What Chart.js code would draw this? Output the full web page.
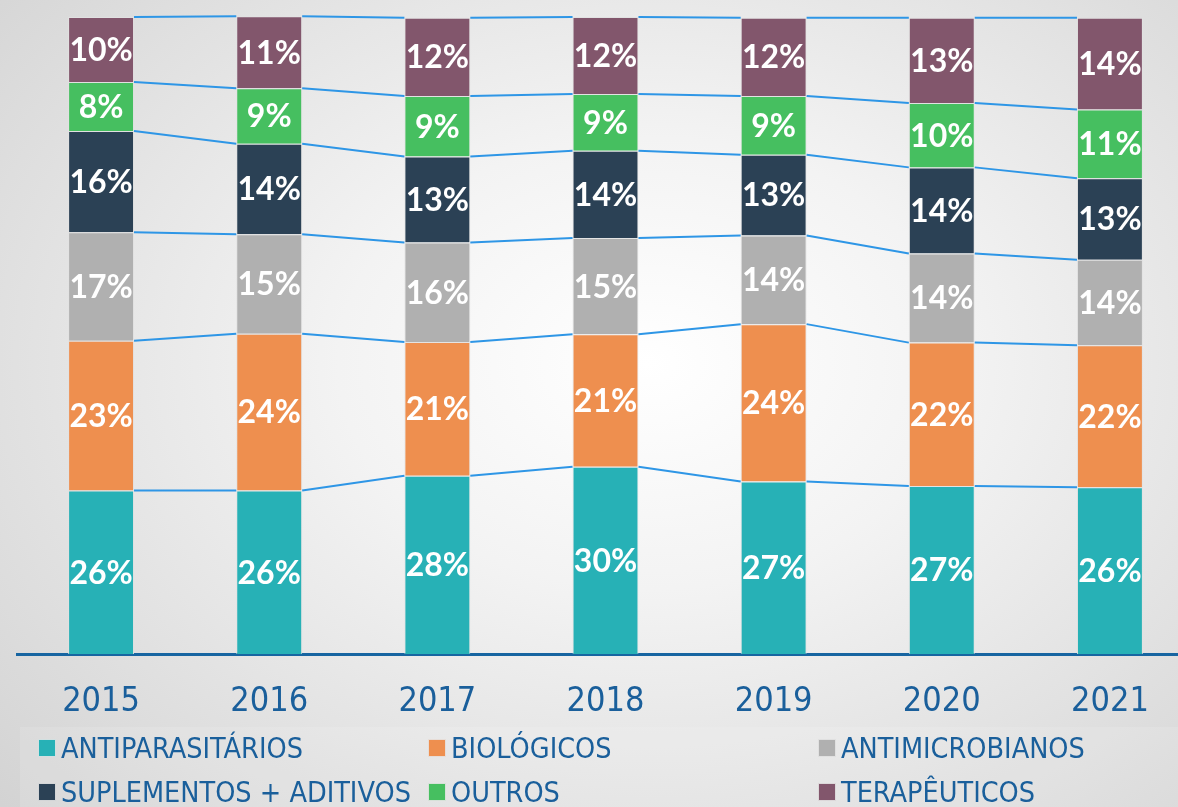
<!DOCTYPE html>
<html>
<head>
<meta charset="utf-8">
<script src="https://cdn.jsdelivr.net/npm/chart.js@4"></script>
<style>
  html, body { margin: 0; padding: 0; width: 1178px; height: 807px; overflow: hidden; }
  body {
    position: relative;
    background: radial-gradient(ellipse 75% 80% at 55% 45%, #ffffff 0%, #f3f3f3 35%, #d3d3d3 100%);
    font-family: 'DejaVu Sans Condensed', sans-serif;
  }
  #chart { position: absolute; left: 0; top: 0; }
  #legendBand { position: absolute; left: 20px; top: 727px; right: 0; bottom: 0; background: rgba(255,255,255,0.12); }
  #legend {
    position: absolute; left: 38px; top: 726px;
    display: grid; grid-template-columns: 390px 390px 390px; grid-auto-rows: 44px;
  }
  .item { display: flex; align-items: center; color: #1a5f9b; font-size: 28.5px; white-space: nowrap; }
  .box { width: 16px; height: 16px; border: 1px solid rgba(230,230,230,0.9); margin-right: 5px; flex: none; }
</style>
</head>
<body>
<div id="legendBand"></div>
<canvas id="chart" width="1200" height="771"></canvas>
<div id="legend"></div>
<script>
// Participação por classe terapêutica (% do total)
const years = ['2015', '2016', '2017', '2018', '2019', '2020', '2021'];

const antiparasitarios = [25.7, 25.7, 28.0, 29.4, 27.1, 26.4, 26.2];
const biologicos       = [23.5, 24.6, 21.0, 20.8, 24.7, 22.5, 22.3];
const antimicrobianos  = [17.0, 15.6, 15.6, 15.1, 13.9, 14.0, 13.4];
const suplementos      = [15.9, 14.2, 13.5, 13.7, 12.7, 13.5, 12.8];
const outros           = [7.7, 8.7, 9.5, 8.9, 9.2, 10.1, 10.8];
const terapeuticos     = [10.2, 11.3, 12.3, 12.1, 12.3, 13.4, 14.4];

// rótulos como aparecem no gráfico
const labAntiparasitarios = [26, 26, 28, 30, 27, 27, 26];
const labBiologicos       = [23, 24, 21, 21, 24, 22, 22];
const labAntimicrobianos  = [17, 15, 16, 15, 14, 14, 14];
const labSuplementos      = [16, 14, 13, 14, 13, 14, 13];
const labOutros           = [8, 9, 9, 9, 9, 10, 11];
const labTerapeuticos     = [10, 11, 12, 12, 12, 13, 14];

const series = [
    { label: 'ANTIPARASITÁRIOS', data: antiparasitarios, labels: labAntiparasitarios, color: '#27b1b6' },
    { label: 'BIOLÓGICOS', data: biologicos, labels: labBiologicos, color: '#ee8f4f' },
    { label: 'ANTIMICROBIANOS', data: antimicrobianos, labels: labAntimicrobianos, color: '#b0b0b0' },
    { label: 'SUPLEMENTOS + ADITIVOS', data: suplementos, labels: labSuplementos, color: '#2b4155' },
    { label: 'OUTROS', data: outros, labels: labOutros, color: '#46bf60' },
    { label: 'TERAPÊUTICOS', data: terapeuticos, labels: labTerapeuticos, color: '#82566c' }
];

// series lines between the bars (like Excel)
const seriesLines = {
    id: 'seriesLines',
    afterDatasetsDraw(chart) {
        const ctx = chart.ctx;
        ctx.save();
        ctx.strokeStyle = '#2e96e6';
        ctx.lineWidth = 2;
        chart.data.datasets.forEach((ds, i) => {
            const bars = chart.getDatasetMeta(i).data;
            for (let j = 0; j < bars.length - 1; j++) {
                const a = bars[j], b = bars[j + 1];
                ctx.beginPath();
                ctx.moveTo(a.x + a.width / 2, a.y);
                ctx.lineTo(b.x - b.width / 2, b.y);
                ctx.stroke();
            }
        });
        ctx.restore();
    }
};

const barLabels = {
    id: 'barLabels',
    afterDatasetsDraw(chart) {
        const ctx = chart.ctx;
        ctx.save();
        ctx.fillStyle = '#ffffff';
        ctx.font = 'bold 32px Lato';
        ctx.textAlign = 'center';
        ctx.textBaseline = 'middle';
        chart.data.datasets.forEach((ds, i) => {
            chart.getDatasetMeta(i).data.forEach((bar, j) => {
                ctx.fillText(ds.valueLabels[j] + '%', bar.x, (bar.y + bar.base) / 2 + 1);
            });
        });
        ctx.restore();
    }
};

const chart = new Chart(document.getElementById('chart'), {
    type: 'bar',
    data: {
        labels: years,
        datasets: series.map(s => ({
            label: s.label,
            data: s.data,
            valueLabels: s.labels,
            backgroundColor: s.color,
            borderColor: 'rgba(225,225,225,0.9)',
            borderWidth: 1,
            barPercentage: 0.392,
            categoryPercentage: 1
        }))
    },
    options: {
        responsive: false,
        animation: false,
        layout: { padding: { left: 17, right: 6, top: 17, bottom: 20 } },
        plugins: {
            legend: { display: false },
            tooltip: { enabled: false }
        },
        scales: {
            x: {
                stacked: true,
                grid: { display: false, drawTicks: false },
                border: { display: true, color: '#1765a1', width: 3 },
                ticks: {
                    color: '#1a5f9b',
                    font: { family: "'DejaVu Sans Condensed', sans-serif", size: 34 },
                    padding: 28
                }
            },
            y: {
                stacked: true,
                display: false,
                min: 0,
                max: 100
            }
        }
    },
    plugins: [seriesLines, barLabels]
});

// legend in three columns
const legend = document.getElementById('legend');
series.forEach(s => {
    const item = document.createElement('div');
    item.className = 'item';
    const box = document.createElement('span');
    box.className = 'box';
    box.style.background = s.color;
    item.appendChild(box);
    item.appendChild(document.createTextNode(s.label));
    legend.appendChild(item);
});
</script>
</body>
</html>
